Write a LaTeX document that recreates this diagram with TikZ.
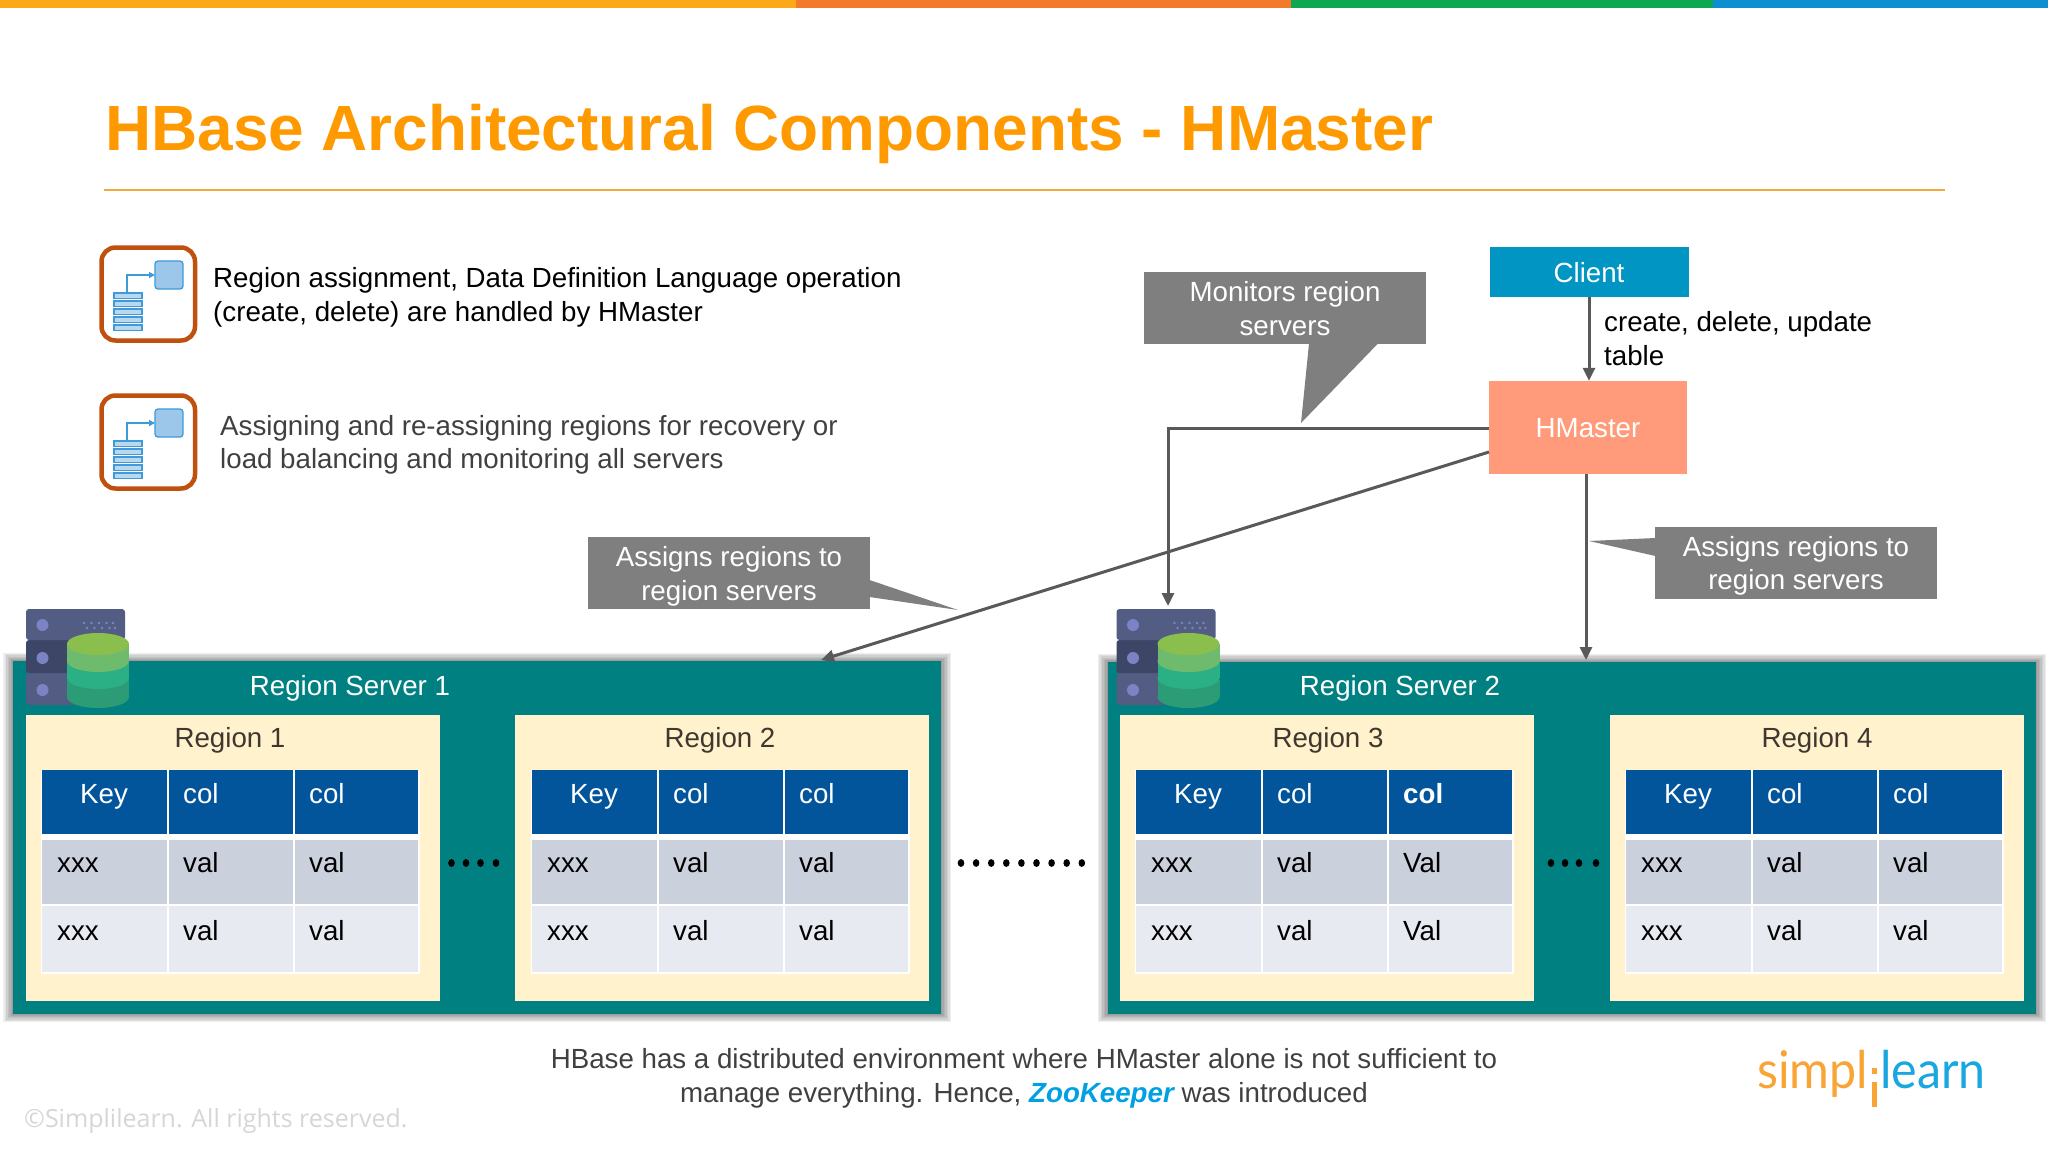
\documentclass[tikz,border=0pt]{standalone}
\usepackage{fontspec}
\setmainfont{Liberation Sans}
\newfontfamily\cfont{Open Sans}
\newfontfamily\lfont{Lato}
\usetikzlibrary{arrows.meta}
\definecolor{barA}{HTML}{FBA919}
\definecolor{barB}{HTML}{F37A2B}
\definecolor{barC}{HTML}{0DA84F}
\definecolor{barD}{HTML}{0F8FD0}
\definecolor{titleC}{HTML}{FF9900}
\definecolor{ruleC}{HTML}{F2A93B}
\definecolor{iconB}{HTML}{C0500F}
\definecolor{iconL}{HTML}{3C9BD8}
\definecolor{iconF}{HTML}{9CC6EA}
\definecolor{darkT}{HTML}{404040}
\definecolor{calloutC}{HTML}{7F7F80}
\definecolor{lineC}{HTML}{595959}
\definecolor{clientC}{HTML}{0095C3}
\definecolor{masterC}{HTML}{FF9B7B}
\definecolor{serverC}{HTML}{008080}
\definecolor{regionC}{HTML}{FFF2CC}
\definecolor{regionT}{HTML}{403830}
\definecolor{headC}{HTML}{02559B}
\definecolor{rowA}{HTML}{CBD0DD}
\definecolor{rowB}{HTML}{E7EAF1}
\definecolor{slabA}{HTML}{535D83}
\definecolor{slabB}{HTML}{3E4668}
\definecolor{slabL}{HTML}{7B83C4}
\definecolor{cylA}{HTML}{8ABF4E}
\definecolor{cylB}{HTML}{6FBB6E}
\definecolor{cylC}{HTML}{2BAF85}
\definecolor{cylD}{HTML}{2B9C75}
\definecolor{zooC}{HTML}{00A0E3}
\definecolor{logoO}{HTML}{F9A536}
\definecolor{logoB}{HTML}{1AA7E0}
\tikzset{
  txt/.style={font=\fontsize{27.7}{33.5}\selectfont, inner sep=0pt},
  basew/.style={txt, anchor=base west, align=left},
  basec/.style={txt, anchor=base, align=center},
  callout/.style={fill=calloutC, inner sep=0pt, minimum width=282pt, minimum height=72pt},
  flow/.style={draw=lineC, line width=3pt, -{Triangle[length=13pt,width=12pt]}},
  srv/.style={fill=serverC, inner sep=0pt, anchor=north west},
  reg/.style={fill=regionC, inner sep=0pt, anchor=north west},
}
\newcommand{\shadowbox}[4]{%
  \foreach \e in {10,8.5,7,5.5,4,2.5,1}{
    \fill[black, opacity=0.065] (#1-\e,#2-0.8*\e) rectangle (#3+\e,#4+0.8*\e);
  }
}
\newcommand{\mytable}[4]{% id, x, third header, third values
  \fill[white] (#2-1.5,768.5) rectangle (#2+377.5,974);
  \fill[regionC] (#2-1.5,768.5) rectangle (#2+377.5,770);
  \fill[headC] (#2,770) rectangle (#2+124.5,834);
  \fill[headC] (#2+126.5,770) rectangle (#2+250.5,834);
  \fill[headC] (#2+252.5,770) rectangle (#2+376,834);
  \foreach \a/\b/\c in {840/904/rowA,906/972/rowB}{
    \fill[\c] (#2,\a) rectangle (#2+124.5,\b);
    \fill[\c] (#2+126.5,\a) rectangle (#2+250.5,\b);
    \fill[\c] (#2+252.5,\a) rectangle (#2+376,\b);
  }
  \node[basec, text=white] (#1k) at (#2+62,803) {Key};
  \node[basew, text=white] (#1c) at (#2+141,803) {col};
  \node[basew, text=white] (#1d) at (#2+267,803) {#3};
  \node[basew, text=black] (#1xa) at (#2+15,872) {xxx};
  \node[basew, text=black] (#1va) at (#2+141,872) {val};
  \node[basew, text=black] (#1wa) at (#2+267,872) {#4};
  \node[basew, text=black] (#1xb) at (#2+15,940) {xxx};
  \node[basew, text=black] (#1vb) at (#2+141,940) {val};
  \node[basew, text=black] (#1wb) at (#2+267,940) {#4};
}
\newcommand{\docicon}[1]{% y of box top
  \draw[iconB, line width=4.5pt, rounded corners=14pt, fill=white] (101.5,#1+2.5) rectangle (195,#1+95.5);
  \foreach \i in {0,...,4}{
    \draw[iconL, line width=1.3pt, fill=iconF!70] (114,#1+48+8*\i) rectangle (142,#1+53.5+8*\i);
  }
  \draw[iconL, line width=2pt, -{Triangle[length=6pt,width=6pt]}] (127,#1+48) -- (127,#1+30) -- (155,#1+30);
  \draw[iconL, line width=1.3pt, fill=iconF, rounded corners=3pt] (155,#1+16) rectangle (183,#1+44);
}
\newcommand{\servericon}[1]{% x shift
  \begin{scope}[xshift=#1pt]
    \fill[slabA, rounded corners=3pt] (26,673) rectangle (76,705);
    \fill[slabB, rounded corners=3pt] (26,640) rectangle (80,673);
    \fill[slabA, rounded corners=3pt] (26,609) rectangle (125,640);
    \foreach \y in {625,658,690}{\fill[slabL] (42.5,\y) circle (6);}
    \foreach \x in {84,91.5,99,106.5,113}{\fill[slabL] (\x,623) circle (1.3);}
    \foreach \x in {87,94.5,102,109.5,115}{\fill[slabL] (\x,628) circle (1.3);}
    \fill[cylD] (67,680) rectangle (129,697);
    \fill[cylD] (98,697) ellipse [x radius=31,y radius=11];
    \fill[cylC] (67,661) rectangle (129,678);
    \fill[cylC] (98,678) ellipse [x radius=31,y radius=11];
    \fill[cylB] (67,644) rectangle (129,661);
    \fill[cylB] (98,661) ellipse [x radius=31,y radius=11];
    \fill[cylA] (98,644) ellipse [x radius=31,y radius=11];
  \end{scope}
}
\begin{document}
\begin{tikzpicture}[x=1pt,y=-1pt]
\useasboundingbox (0,0) rectangle (2048,1152);
\fill[white] (0,0) rectangle (2048,1152);
% top bar
\fill[barA] (0,0) rectangle (796,8);
\fill[barB] (796,0) rectangle (1291,8);
\fill[barC] (1291,0) rectangle (1713,8);
\fill[barD] (1713,0) rectangle (2048,8);
% title
\node[inner sep=0pt, anchor=base west, text=titleC, font=\fontsize{63.9}{64}\selectfont\bfseries] (title) at (105,150) {HBase Architectural Components - HMaster};
\draw[ruleC, line width=1.6pt] (104,190) -- (1945,190);
% icons and text
\docicon{245}
\docicon{393}
\node[basew, text=black] (t1) at (213,321) {Region assignment, Data Definition Language operation\\(create, delete) are handled by HMaster};
\node[basew, text=darkT] (t2) at (220,468.5) {Assigning and re-assigning regions for recovery or\\load balancing and monitoring all servers};
% region servers
\shadowbox{13}{661}{941}{1014}
\shadowbox{1107.5}{662}{2036}{1014}
\node[srv, minimum width=928pt, minimum height=353pt] (rs1) at (13,661) {};
\node[srv, minimum width=928.5pt, minimum height=352pt] (rs2) at (1107.5,662) {};
\node[basec, text=white] (rs1t) at (350,695) {Region Server 1};
\node[basec, text=white] (rs2t) at (1400,695) {Region Server 2};
\foreach \n/\x/\l/\c in {r1/26/Region 1/230,r2/515/Region 2/720,r3/1120/Region 3/1328,r4/1610/Region 4/1817}{
  \node[reg, minimum width=414pt, minimum height=286pt] (\n) at (\x,715) {};
  \node[basec, text=regionT] (\n t) at (\c,747) {\l};
}
\mytable{a}{42}{col}{val}
\mytable{b}{532}{col}{val}
\mytable{c}{1136}{\textbf{col}}{Val}
\mytable{d}{1626}{col}{val}
% dots
\foreach \x in {451.5,466,480.5,496,1551,1565,1579,1596}{\fill[black] (\x,863) ellipse [x radius=3.3,y radius=3.9];}
\foreach \i in {0,...,8}{\fill[black] (961+15.1*\i,863) ellipse [x radius=3.3,y radius=3.9];}
% server icons
\servericon{0}
\servericon{1090.5}
% client / master
\node[fill=clientC, text=white, txt, minimum width=199pt, minimum height=50pt] (client) at (1589,272) {};
\node[txt, text=white] (clientT) at (1589,273) {Client};
\node[fill=masterC, text=white, txt, minimum width=198pt, minimum height=93pt] (hm) at (1588,427.5) {};
\node[txt, text=white] (hmT) at (1588,428.5) {HMaster};
\node[basew, text=black] (crt) at (1604,365) {create, delete, update\\table};
% callouts
\node[callout] (c1) at (1285,308) {};
\fill[calloutC] (1309,343.5) -- (1301,423) -- (1378,343.5) -- cycle;
\node[basec, text=white] (c1t) at (1285,335.3) {Monitors region\\servers};
\node[callout] (c2) at (729,573) {};
\fill[calloutC] (869.5,580) -- (958,610) -- (869.5,597) -- cycle;
\node[basec, text=white] (c2t) at (729,600) {Assigns regions to\\region servers};
\node[callout] (c3) at (1796,562.5) {};
\fill[calloutC] (1655.5,538) -- (1589,541) -- (1655.5,556) -- cycle;
\node[basec, text=white] (c3t) at (1796,589.5) {Assigns regions to\\region servers};
% connectors
\coordinate (hmA) at (1489,428);
\coordinate (hmB) at (1489,452);
\coordinate (hmC) at (1586,474);
\coordinate (turn) at (1168,428);
\coordinate (icon2top) at (1168,606);
\coordinate (rs1in) at (821,660);
\coordinate (rs2in) at (1586,660);
\draw[flow] (client.south) -- (client.south |- hm.north);
\draw[flow] (hmA) -- (turn) -- (icon2top);
\draw[flow] (hmB) -- (rs1in);
\draw[flow] (hmC) -- (rs2in);
% footer
\node[basec, text=darkT] (foot) at (1024,1102) {HBase has a distributed environment where HMaster alone is not sufficient to\\manage everything. Hence, {\bfseries\itshape\color{zooC}ZooKeeper} was introduced};
\node[inner sep=0pt, anchor=base west, text=black!16, font=\fontsize{25}{25}\cfont\selectfont] (copy) at (24,1127) {©Simplilearn. All rights reserved.};
% logo
\node[inner sep=0pt, anchor=base west, text=logoO, font=\fontsize{52}{52}\lfont\selectfont] (lgA) at (1757,1088) {\scalebox{0.93}[1]{simpl}};
\fill[logoO] (1872,1068) rectangle (1876.5,1074);
\fill[logoO] (1872,1082) rectangle (1876.5,1107);
\node[inner sep=0pt, anchor=base west, text=logoB, font=\fontsize{52}{52}\lfont\selectfont] (lgB) at (1880,1088) {\scalebox{0.93}[1]{learn}};
\end{tikzpicture}
\end{document}
